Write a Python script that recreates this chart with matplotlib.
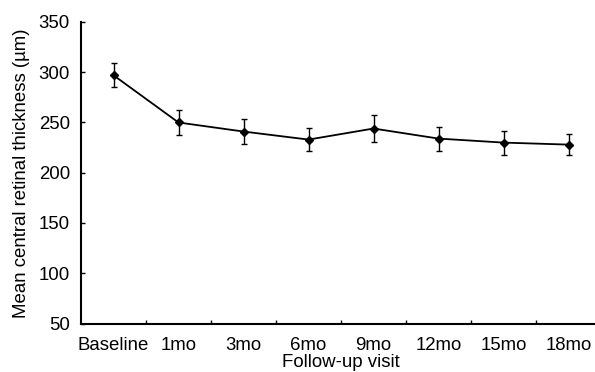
import matplotlib
matplotlib.use("Agg")
import matplotlib.pyplot as plt

visits = ["Baseline", "1mo", "3mo", "6mo", "9mo", "12mo", "15mo", "18mo"]
thickness = [297, 250, 241, 233, 244, 234, 230, 228]
thickness_err = [12, 12, 12, 11.5, 13, 12, 12, 10.5]
y_ticks = [50, 100, 150, 200, 250, 300, 350]

plt.rcParams["font.family"] = ["Liberation Sans", "DejaVu Sans"]
FS = 13.4

fig = plt.figure(figsize=(5.95, 3.72), dpi=100)
# axes runs past the right edge, as in the reference (last label clipped)
ax = fig.add_axes([81 / 595, 48.5 / 372, 520 / 595, 301.5 / 372])

x = list(range(len(visits)))
ax.errorbar(x, thickness, yerr=thickness_err, color="black", linewidth=1.3,
            marker="D", markersize=4.5, capsize=2, elinewidth=1.0, capthick=1.0)

ax.set_xlim(-0.5, len(visits) - 0.5)
ax.set_ylim(50, 350)
ax.set_yticks(y_ticks)
ax.set_xticks(x)
ax.set_xticklabels(visits)
ax.set_xticks([i + 0.5 for i in x[:-1]], minor=True)
ax.tick_params(axis="x", which="major", length=0, labelsize=FS, pad=10)
ax.tick_params(axis="x", which="minor", direction="in", length=3, width=1)
ax.tick_params(axis="y", direction="in", length=3, width=1, labelsize=FS, pad=8)

for side in ("top", "right"):
    ax.spines[side].set_visible(False)
for side in ("left", "bottom"):
    ax.spines[side].set_linewidth(1.5)

ax.set_xlabel("Follow-up visit", fontsize=FS, labelpad=0)
ax.set_ylabel("Mean central retinal thickness (µm)", fontsize=FS, labelpad=6)

fig.savefig("out.png", dpi=100)
